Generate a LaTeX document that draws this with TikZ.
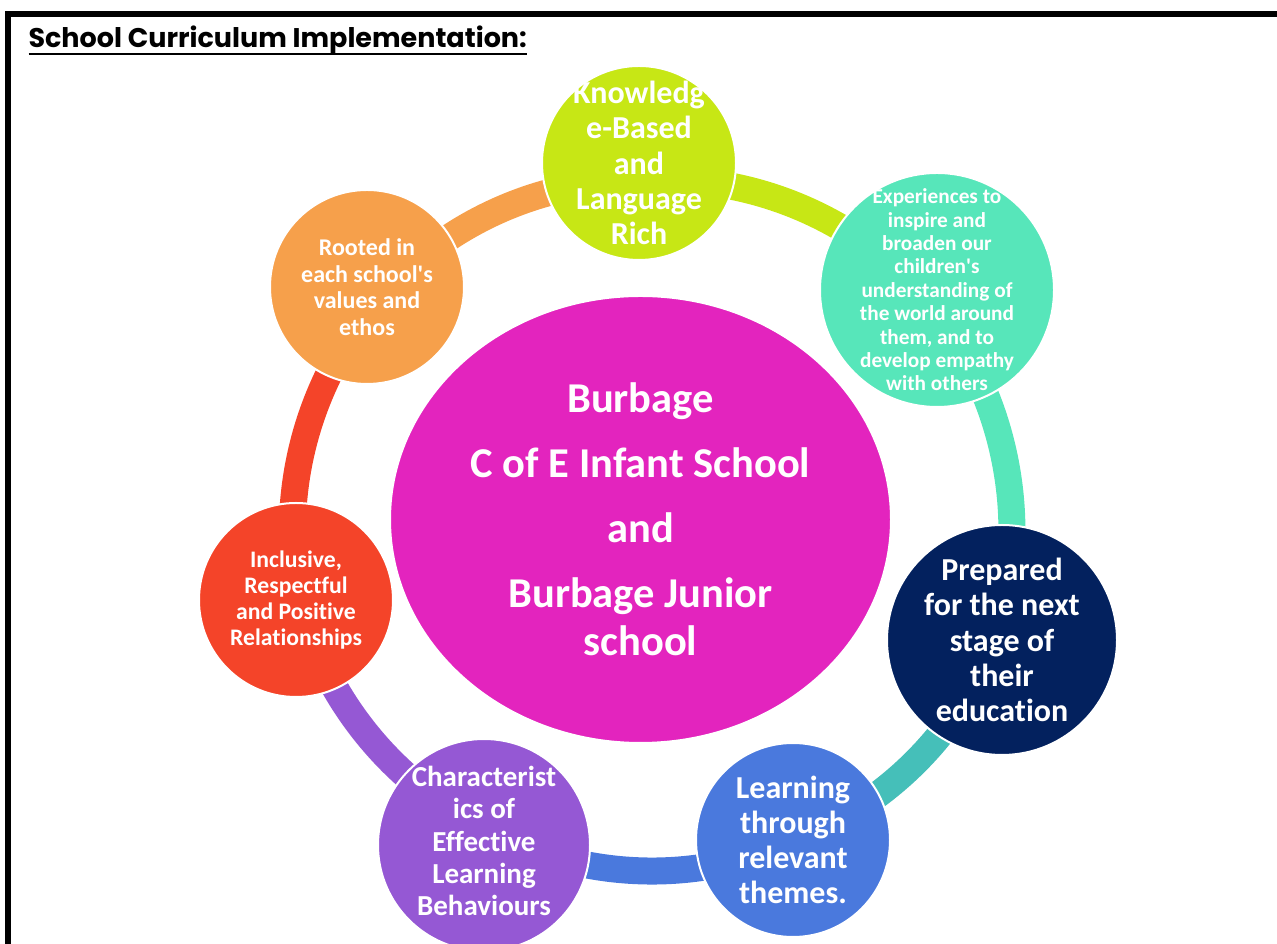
\documentclass[tikz,border=0pt]{standalone}
\usepackage{fontspec}
\setmainfont{Carlito}[Ligatures={TeX,NoCommon}]
\newfontfamily\titlefont{Poppins}
\usetikzlibrary{shapes.geometric}
\newsavebox\titlebox
\newcommand{\titleline}[1]{\sbox\titlebox{#1}\rlap{\rule[-7.5pt]{\wd\titlebox}{2.5pt}}\usebox\titlebox}

\definecolor{limeC}{HTML}{C7E715}
\definecolor{mintC}{HTML}{57E6BA}
\definecolor{navyC}{HTML}{03215E}
\definecolor{blueC}{HTML}{4A79DD}
\definecolor{purpleC}{HTML}{9558D4}
\definecolor{redC}{HTML}{F44429}
\definecolor{orangeC}{HTML}{F6A04B}
\definecolor{magentaC}{HTML}{E324BE}
\definecolor{tealC}{HTML}{45BFB9}

\begin{document}
\begin{tikzpicture}[x=1pt,y=1pt,
	bubble/.style={circle, draw=white, line width=2pt, inner sep=0pt, minimum size=#1},
	words/.style 2 args={text=white, align=center, inner sep=0pt, font=\bfseries\fontsize{#1}{#2}\selectfont},
	seg/.style={line width=27pt, bend left=#1, looseness=0.9}]
	\clip (0,0) rectangle (1277,944);
	% frame and title
	\draw[line width=6pt] (8,-20) -- (8,930) -- (1300,930);
	\node[anchor=base west, font=\titlefont\bfseries\fontsize{27}{30}\selectfont] (title) at (25,896) {\titleline{School Curriculum Implementation:}};
	% the ring
	\coordinate (ring) at (653,420);
	\path (ring) ++(92:363 and 344) coordinate (rLime);
	\path (ring) ++(41:363 and 344) coordinate (rTeal);
	\path (ring) ++(-19.3:363 and 344) coordinate (rNavy);
	\path (ring) ++(-67.2:363 and 344) coordinate (rBlue);
	\path (ring) ++(243.5:363 and 344) coordinate (rPurple);
	\path (ring) ++(192.7:363 and 344) coordinate (rRed);
	\path (ring) ++(138.8:363 and 344) coordinate (rOrange);
	\draw[seg=26, limeC] (rLime) to (rTeal);
	\draw[seg=29, mintC] (rTeal) to (rNavy);
	\draw[seg=24, tealC] (rNavy) to (rBlue);
	\draw[seg=25.5, blueC] (rBlue) to (rPurple);
	\draw[seg=25, purpleC] (rPurple) to (rRed);
	\draw[seg=26, redC] (rRed) to (rOrange);
	\draw[seg=24, orangeC] (rOrange) to (rLime);
	% centre
	\node[ellipse, fill=magentaC, draw=white, line width=2pt, text=white, align=center, inner sep=0pt,
		minimum width=501, minimum height=447, font=\bfseries\fontsize{42.5}{48.3}\selectfont] (school) at (640.5,424.5)
		{Burbage\\[16.7pt]C of E Infant School\\[16.7pt]and\\[16.7pt]Burbage Junior\\school};
	% the seven circles
	\node[bubble=194, fill=limeC, label={[words={32}{35.1}]center:{Knowledg\\e-Based\\and\\Language\\Rich}}] (lime) at (639,781) {};
	\node[bubble=234, fill=mintC, label={[words={21.3}{23.4}]center:{Experiences to\\inspire and\\broaden our\\children\textquotesingle s\\understanding of\\the world around\\them, and to\\develop empathy\\with others}}] (teal) at (937,654) {};
	\node[bubble=230, fill=navyC, label={[words={32}{35.2}]center:{Prepared\\for the next\\stage of\\their\\education}}] (navy) at (1002,304) {};
	\node[bubble=194, fill=blueC, label={[words={32}{35}]center:{Learning\\through\\relevant\\themes.}}] (blue) at (793,104) {};
	\node[bubble=212, fill=purpleC, label={[words={29}{32.3}, yshift=4pt]center:{Characterist\\ics of\\Effective\\Learning\\Behaviours}}] (purple) at (484,99) {};
	\node[bubble=194, fill=redC, label={[words={23.7}{26}]center:{Inclusive,\\Respectful\\and Positive\\Relationships}}] (red) at (296,344) {};
	\node[bubble=194, fill=orangeC, label={[words={24}{26.5}]center:{Rooted in\\each school\textquotesingle s\\values and\\ethos}}] (orange) at (367,657) {};
\end{tikzpicture}
\end{document}
